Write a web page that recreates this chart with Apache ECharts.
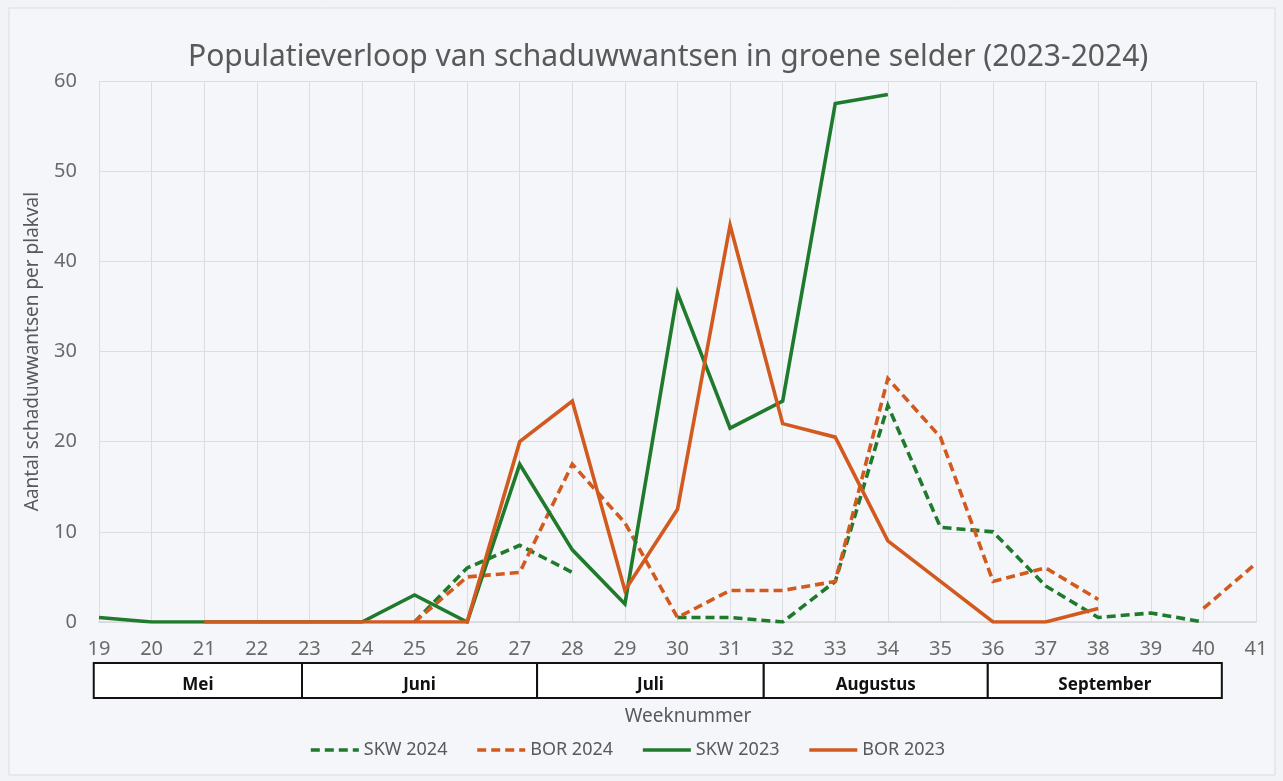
<!DOCTYPE html>
<html>
<head>
<meta charset="utf-8">
<script src="https://cdn.jsdelivr.net/npm/echarts@6/dist/echarts.min.js"></script>
<style>
html,body{margin:0;padding:0;background:#f1f3f7;}
#chart{width:1283px;height:781px;}
</style>
</head>
<body>
<div id="chart"></div>
<script>
// ---- data ----
const weeks = [19,20,21,22,23,24,25,26,27,28,29,30,31,32,33,34,35,36,37,38,39,40,41];
const skw2024 = [null,null,null,null,null,null,0,6,8.5,5.5,null,0.5,0.5,0,4.5,24,10.5,10,4,0.5,1,0,null];
const bor2024 = [null,null,null,null,null,null,0,5,5.5,17.5,11,0.5,3.5,3.5,4.5,27,20.5,4.5,6,2.5,null,1.5,6.5];
const skw2023 = [0.5,0,0,0,0,0,3,0,17.5,8,2,36.5,21.5,24.5,57.5,58.5,null,null,null,null,null,null,null];
const bor2023 = [null,null,0,0,0,0,0,0,20,24.5,3.5,12.5,44,22,20.5,9,4.5,0,0,1.5,null,null,null];
const seriesNames = ['SKW 2024','BOR 2024','SKW 2023','BOR 2023'];
const months = ['Mei','Juni','Juli','Augustus','September'];
const monthBounds = [18.9, 22.86, 27.33, 31.64, 35.9, 40.35]; // in week units
const titleText = 'Populatieverloop van schaduwwantsen in groene selder (2023-2024)';
const yName = 'Aantal schaduwwantsen per plakval';
const xName = 'Weeknummer';

const GREEN = '#1f7a2c';
const ORANGE = '#d25a1e';
const TXT = '#595959';
const FONT = 'Noto Sans';

function pairs(arr){ return weeks.map((w,i)=>[w, arr[i]]); }

const chart = echarts.init(document.getElementById('chart'), null, {renderer:'canvas'});

function mkSeries(name, arr, color, dashed){
  return {
    name: name, type:'line', data: pairs(arr), symbol:'none', connectNulls:false,
    lineStyle:{color:color, width:3.6, type: dashed ? [9,5] : 'solid', cap:'butt', join:'miter'},
    itemStyle:{color:color},
    emphasis:{disabled:true}, animation:false
  };
}

const option = {
  animation:false,
  backgroundColor:'#f1f3f7',
  title:{
    text:titleText, left:183, top:37,
    textStyle:{fontFamily:FONT, fontSize:30, fontWeight:'normal', color:TXT}
  },
  legend:{
    data: seriesNames, bottom:17, left:304, itemWidth:48, itemHeight:14, itemGap:28,
    textStyle:{fontFamily:FONT, fontSize:18, color:TXT},
    itemStyle:{opacity:0},
    lineStyle:{width:3.6},
    selectedMode:false
  },
  grid:{left:99, right:27, top:81, bottom:159, containLabel:false},
  xAxis:{
    type:'value', min:19, max:41, interval:1,
    axisLine:{show:true, lineStyle:{color:'#d6d8dc', width:1.5}},
    axisTick:{show:false},
    axisLabel:{fontFamily:FONT, fontSize:20, color:'#6a6a6a', margin:17},
    splitLine:{show:true, lineStyle:{color:'#dcdde1', width:1}}
  },
  yAxis:{
    type:'value', min:0, max:60, interval:10,
    name:yName, nameLocation:'middle', nameGap:57, nameRotate:90,
    nameTextStyle:{fontFamily:FONT, fontSize:19, color:TXT},
    axisLine:{show:false}, axisTick:{show:false},
    axisLabel:{fontFamily:FONT, fontSize:20, color:'#6a6a6a', margin:22},
    splitLine:{show:true, lineStyle:{color:'#dcdde1', width:1}}
  },
  series:[
    mkSeries(seriesNames[0], skw2024, GREEN, true),
    mkSeries(seriesNames[1], bor2024, ORANGE, true),
    mkSeries(seriesNames[2], skw2023, GREEN, false),
    mkSeries(seriesNames[3], bor2023, ORANGE, false)
  ]
};
chart.setOption(option);

// decorations: outer frame, month boxes, x-axis name
const gfx = [];
gfx.push({type:'rect', z:-10, silent:true, shape:{x:9, y:8, width:1266, height:767},
  style:{fill:'#f4f6fa', stroke:'#dadce0', lineWidth:1}});
const y0 = chart.convertToPixel({yAxisIndex:0}, 0);
const boxTop = y0 + 41, boxH = 35;
for (let i=0;i<months.length;i++){
  const xa = chart.convertToPixel({xAxisIndex:0}, monthBounds[i]);
  const xb = chart.convertToPixel({xAxisIndex:0}, monthBounds[i+1]);
  gfx.push({type:'rect', silent:true, shape:{x:xa, y:boxTop, width:xb-xa, height:boxH},
    style:{fill:'#ffffff', stroke:'#111111', lineWidth:2}});
  gfx.push({type:'text', silent:true, x:(xa+xb)/2, y:boxTop+boxH/2+5,
    style:{text:months[i], fill:'#111111', font:'bold 17px "Noto Sans"', align:'center', verticalAlign:'middle'}});
}
const xMid = chart.convertToPixel({xAxisIndex:0}, 30.2);
gfx.push({type:'text', silent:true, x:xMid, y:boxTop+boxH+19,
  style:{text:xName, fill:TXT, font:'19px "Noto Sans"', align:'center', verticalAlign:'middle'}});
chart.setOption({graphic:gfx});
</script>
</body>
</html>
